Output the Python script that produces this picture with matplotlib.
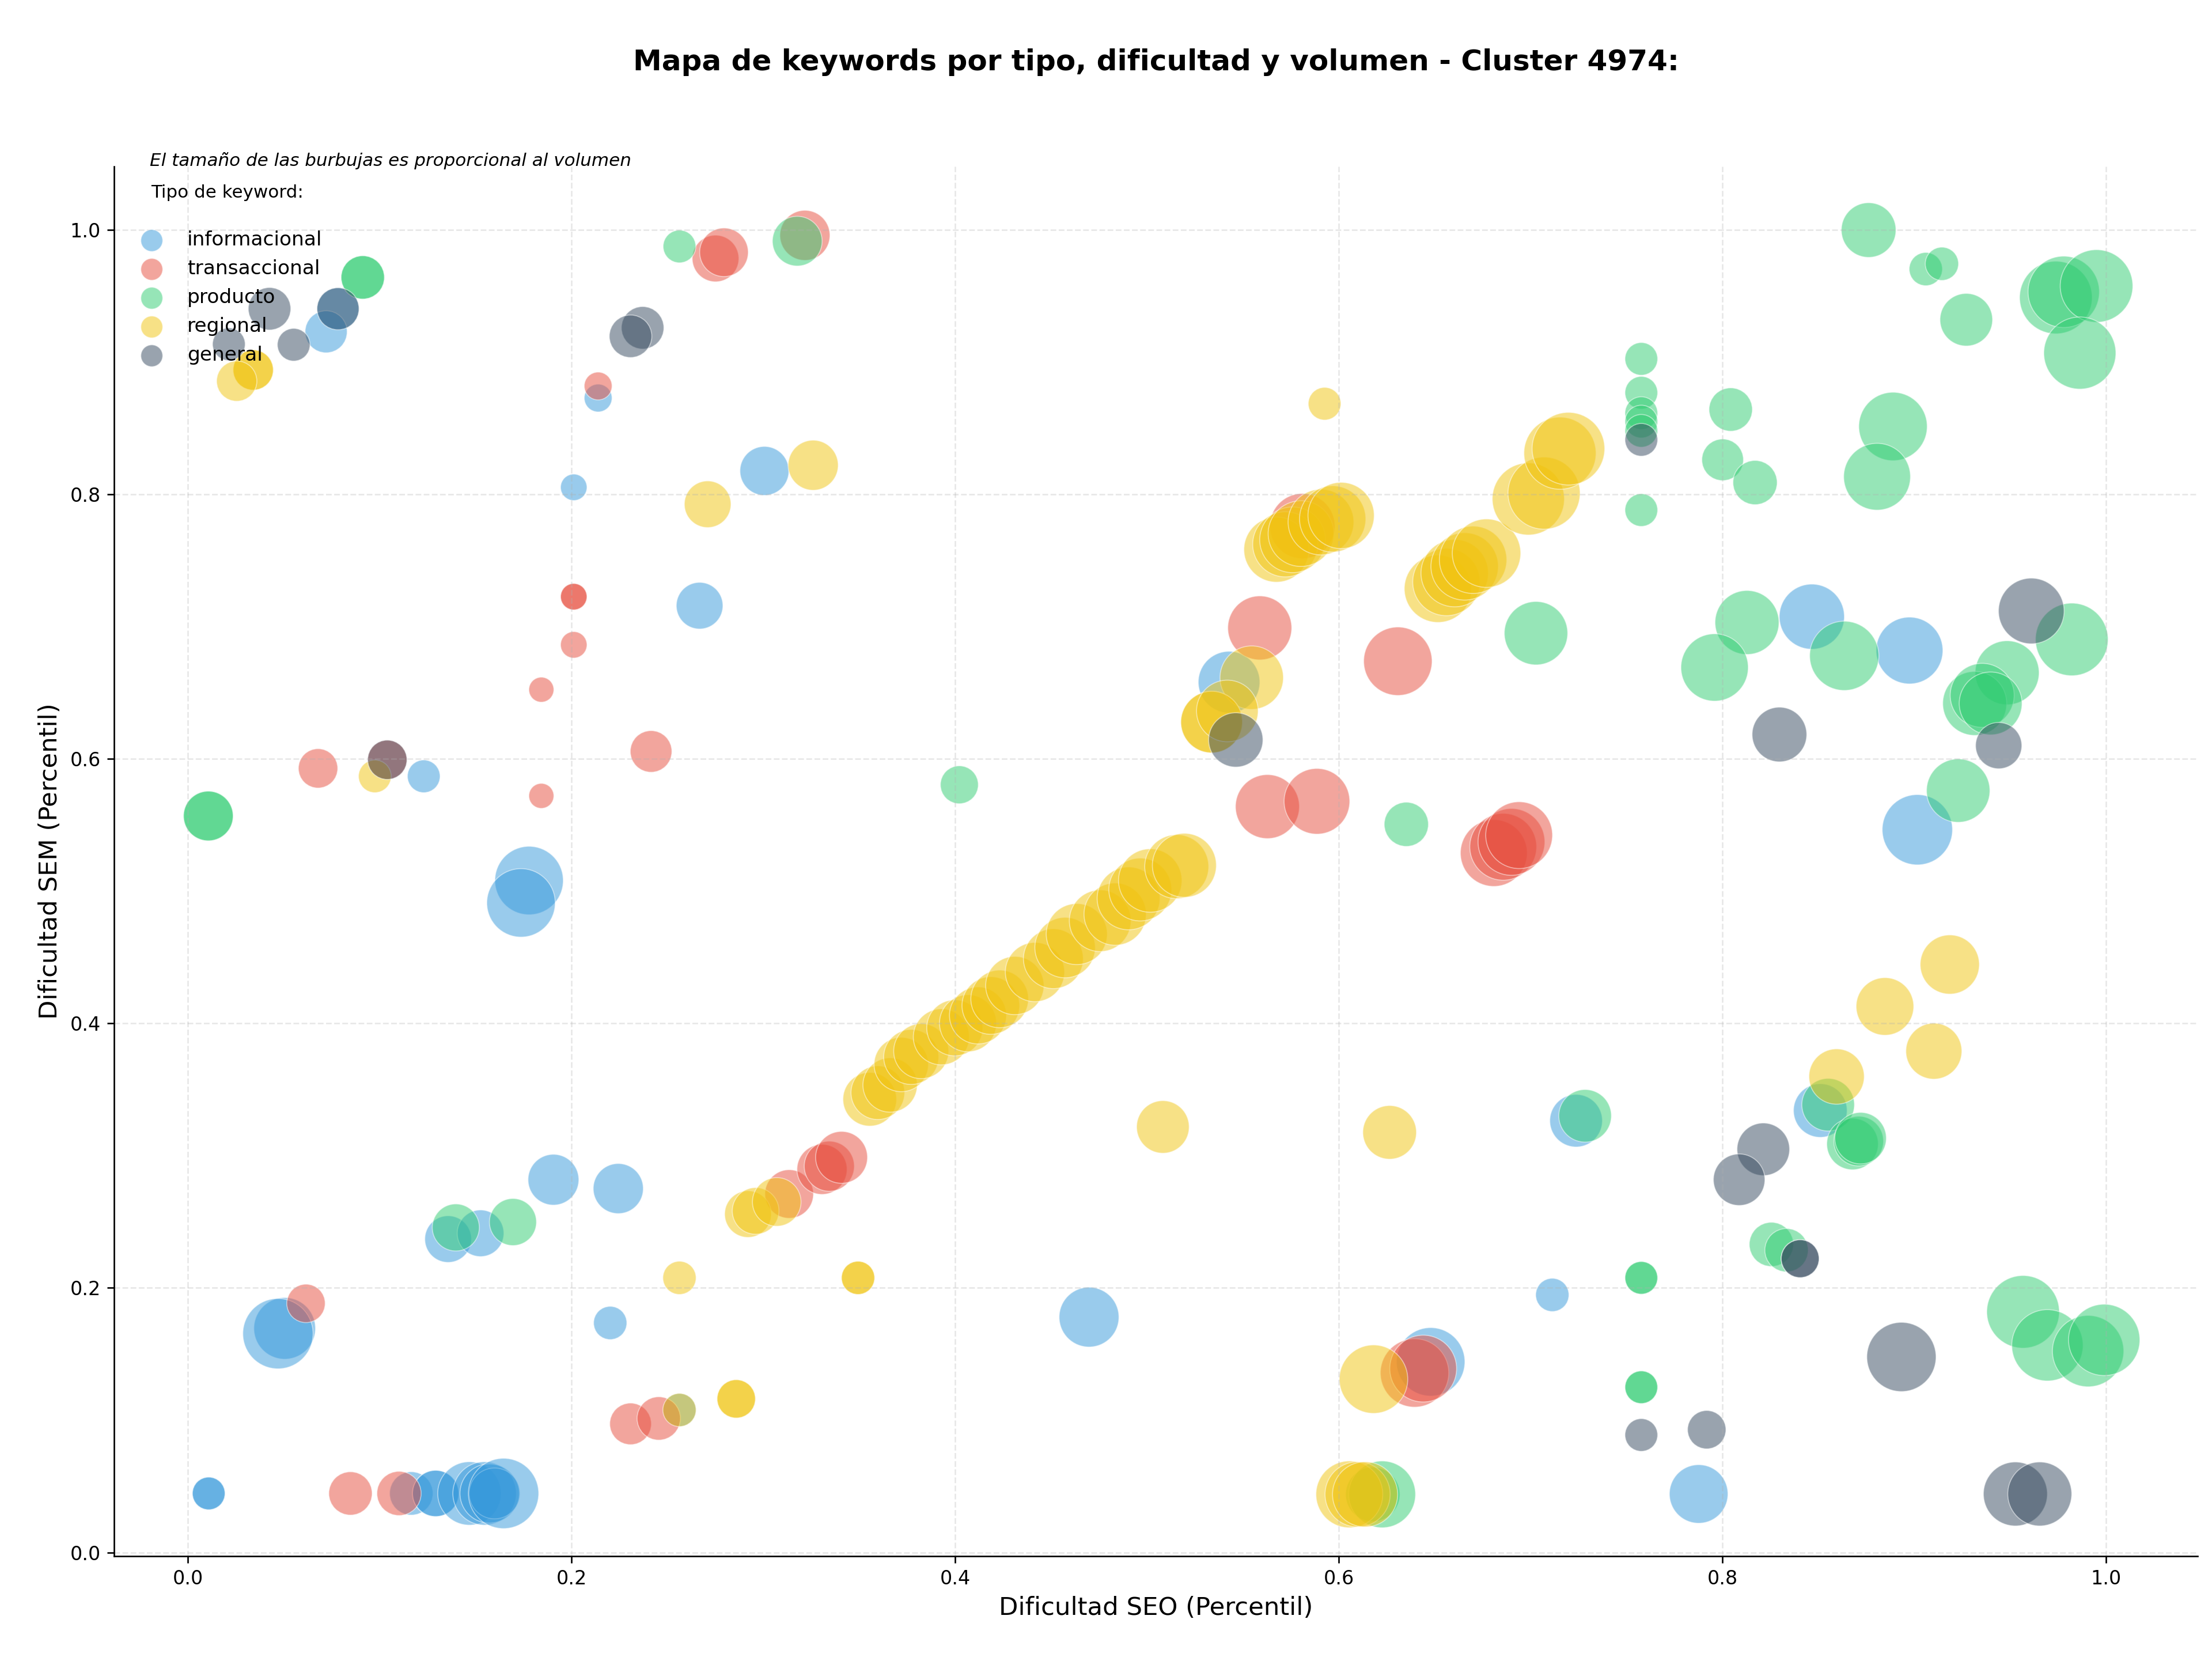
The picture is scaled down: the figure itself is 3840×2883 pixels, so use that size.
import numpy as np
import matplotlib
matplotlib.use("Agg")
import matplotlib.pyplot as plt

# Keyword types and their colours
tipos = ["informacional", "transaccional", "producto", "regional", "general"]
colores = {"informacional": "#3498db", "transaccional": "#e74c3c", "producto": "#2ecc71",
           "regional": "#f1c40f", "general": "#34495e"}

# Data per type: SEO difficulty percentile, SEM difficulty percentile, volume
info_seo = [0.0783, 0.0721, 0.2139, 0.2012, 0.123, 0.3006, 0.2668, 0.1779, 0.1737, 0.0505,
            0.047, 0.1357, 0.1526, 0.1906, 0.2244, 0.2202, 0.0109, 0.0109, 0.1165, 0.1292,
            0.1292, 0.1468, 0.1547, 0.1573, 0.1599, 0.1646, 0.5428, 0.2563, 0.4698, 0.7237,
            0.7113, 0.6479, 0.7876, 0.8466, 0.8975, 0.9016, 0.851]
info_sem = [0.9403, 0.9229, 0.8728, 0.8053, 0.5868, 0.8177, 0.7158, 0.508, 0.4911, 0.1694,
            0.1654, 0.2369, 0.2413, 0.2818, 0.2751, 0.1735, 0.0446, 0.0446, 0.0446, 0.0446,
            0.0446, 0.0446, 0.0446, 0.0446, 0.0446, 0.0446, 0.658, 0.1077, 0.1779, 0.3264,
            0.1947, 0.1441, 0.0442, 0.7075, 0.6819, 0.5464, 0.3341]
info_vol = [48, 48, 21, 19, 29, 65, 59, 127, 127, 103,
            134, 59, 59, 70, 68, 30, 29, 29, 51, 58,
            58, 109, 109, 95, 70, 134, 103, 30, 97, 75,
            30, 127, 93, 115, 121, 134, 78]

trans_seo = [0.2139, 0.2012, 0.2012, 0.2012, 0.1843, 0.1843, 0.0679, 0.104, 0.2751, 0.2795,
             0.3217, 0.2415, 0.0616, 0.2308, 0.2455, 0.0848, 0.1101, 0.3135, 0.3306, 0.3344,
             0.3408, 0.5588, 0.6308, 0.5628, 0.5886, 0.581, 0.6808, 0.6857, 0.69, 0.694,
             0.6395, 0.644]
trans_sem = [0.8819, 0.7226, 0.7226, 0.6862, 0.6523, 0.572, 0.5928, 0.5993, 0.9783, 0.983,
             0.9958, 0.6056, 0.1883, 0.0972, 0.1013, 0.0446, 0.0446, 0.271, 0.2896, 0.292,
             0.2987, 0.699, 0.6738, 0.5639, 0.5679, 0.776, 0.5288, 0.5335, 0.5372, 0.5423,
             0.1357, 0.139]
trans_vol = [21, 19, 19, 19, 17, 17, 42, 42, 59, 64,
             68, 47, 40, 47, 51, 51, 53, 64, 68, 68,
             73, 111, 127, 111, 117, 115, 121, 121, 121, 121,
             127, 121]

prod_seo = [0.0912, 0.0912, 0.0107, 0.0107, 0.2563, 0.3177, 0.4022, 0.1397, 0.1695, 0.7577,
            0.7577, 0.7577, 0.7577, 0.7577, 0.7577, 0.7028, 0.6352, 0.8762, 0.906, 0.9144,
            0.9271, 0.9738, 0.9779, 0.995, 0.9863, 0.8043, 0.8001, 0.817, 0.8889, 0.8806,
            0.8128, 0.7959, 0.8635, 0.9821, 0.9484, 0.9315, 0.9354, 0.9398, 0.9229, 0.7284,
            0.7577, 0.7577, 0.7577, 0.7577, 0.6177, 0.6226, 0.8551, 0.8678, 0.871, 0.872,
            0.8255, 0.8334, 0.9567, 0.9694, 0.9906, 0.999]
prod_sem = [0.964, 0.964, 0.5568, 0.5568, 0.9874, 0.9914, 0.5804, 0.2457, 0.2498, 0.9024,
            0.8768, 0.8614, 0.855, 0.848, 0.7881, 0.695, 0.5505, 0.9998, 0.9703, 0.9743,
            0.932, 0.9488, 0.9531, 0.9575, 0.9068, 0.8641, 0.8261, 0.8089, 0.8513, 0.8133,
            0.7031, 0.6691, 0.6779, 0.6903, 0.6651, 0.6419, 0.648, 0.6419, 0.576, 0.3301,
            0.2076, 0.2076, 0.1249, 0.1249, 0.0439, 0.0439, 0.3385, 0.3088, 0.311, 0.3132,
            0.2329, 0.2285, 0.1819, 0.1566, 0.1522, 0.1607]
prod_vol = [51, 51, 67, 67, 29, 67, 39, 60, 60, 29,
            29, 29, 29, 29, 29, 109, 53, 81, 30, 30,
            75, 143, 138, 143, 141, 51, 47, 53, 127, 121,
            111, 123, 130, 143, 111, 111, 111, 107, 109, 75,
            29, 29, 29, 29, 80, 121, 75, 72, 67, 72,
            53, 51, 143, 138, 138, 138]

reg_seo = [0.0341, 0.0341, 0.0255, 0.0975, 0.271, 0.326, 0.5926,
           0.5675, 0.5721, 0.5759, 0.5803, 0.5907, 0.5968, 0.6012,
           0.6517, 0.6561, 0.6604, 0.6656, 0.67, 0.677,
           0.6988, 0.707, 0.7153, 0.7197, 0.5546, 0.5337, 0.5337, 0.5419,
           0.292, 0.296, 0.307,
           0.3555, 0.3597, 0.3661, 0.3719, 0.3771, 0.3823, 0.3928, 0.3998, 0.4067, 0.4119,
           0.4186, 0.4232, 0.4311, 0.4416, 0.4512, 0.4573, 0.4634, 0.4756, 0.4834, 0.4904,
           0.4965, 0.5017, 0.5155, 0.5195,
           0.2563, 0.3494, 0.3494, 0.2563, 0.2859, 0.2859, 0.5083, 0.6265, 0.6181,
           0.6055, 0.6098, 0.6137, 0.9185, 0.8847, 0.9102, 0.8595]
reg_sem = [0.894, 0.894, 0.8856, 0.5868, 0.7925, 0.822, 0.8685,
           0.7582, 0.7622, 0.7656, 0.7703, 0.779, 0.7814, 0.784,
           0.7286, 0.7337, 0.7404, 0.7455, 0.7505, 0.7555,
           0.7965, 0.8009, 0.8311, 0.8345, 0.6614, 0.6278, 0.6278, 0.6362,
           0.2558, 0.2582, 0.265,
           0.3426, 0.3476, 0.3534, 0.3689, 0.3746, 0.379, 0.3898, 0.3966, 0.4001, 0.406,
           0.4135, 0.4185, 0.4286, 0.4388, 0.4489, 0.4573, 0.4675, 0.4776, 0.4826, 0.4945,
           0.5012, 0.508, 0.5185, 0.5195,
           0.2076, 0.2076, 0.2076, 0.1077, 0.1161, 0.1161, 0.3217, 0.3176, 0.131,
           0.0439, 0.0439, 0.0439, 0.4445, 0.4128, 0.379, 0.3598]
reg_vol = [44, 44, 44, 29, 59, 68, 29,
           115, 115, 117, 117, 117, 119, 119,
           123, 123, 123, 123, 123, 127,
           141, 141, 141, 143, 109, 103, 103, 103,
           59, 59, 64,
           78, 78, 80, 80, 82, 82, 85, 85, 88, 88,
           90, 90, 92, 95, 97, 99, 101, 103, 105, 107,
           107, 109, 111, 111,
           30, 30, 30, 30, 40, 40, 75, 78, 127,
           121, 115, 115, 95, 90, 85, 83]

gen_seo = [0.0426, 0.0783, 0.0214, 0.0552, 0.104, 0.2371, 0.2308, 0.5463, 0.7577, 0.961,
           0.944, 0.8297, 0.8213, 0.8087, 0.8405, 0.8405, 0.8933, 0.7577, 0.7918, 0.9527,
           0.9654]
gen_sem = [0.9403, 0.9403, 0.9135, 0.9131, 0.5993, 0.9259, 0.9195, 0.6143, 0.8412, 0.7118,
           0.61, 0.6184, 0.3048, 0.2818, 0.2221, 0.2221, 0.1478, 0.0888, 0.0928, 0.0442,
           0.0442]
gen_vol = [49, 48, 29, 29, 42, 49, 49, 80, 29, 117,
           58, 81, 75, 72, 39, 39, 130, 29, 40, 111,
           111]

series = {
    "informacional": (info_seo, info_sem, info_vol),
    "transaccional": (trans_seo, trans_sem, trans_vol),
    "producto": (prod_seo, prod_sem, prod_vol),
    "regional": (reg_seo, reg_sem, reg_vol),
    "general": (gen_seo, gen_sem, gen_vol),
}

fig = plt.figure(figsize=(16, 12.0125), dpi=240)
ax = fig.add_axes([0.0516, 0.0633, 0.9419, 0.8365])

for tipo in tipos:
    seo, sem, vol = series[tipo]
    ax.scatter(seo, sem, s=np.array(vol) * 10, c=colores[tipo], alpha=0.5,
               edgecolors="white", linewidths=0.5, label=tipo)

ax.set_xlim(-0.0384, 1.0477)
ax.set_ylim(-0.0026, 1.0479)

ax.set_title("Mapa de keywords por tipo, dificultad y volumen - Cluster 4974:",
             fontsize=15, fontweight="bold", pad=50)
ax.set_xlabel("Dificultad SEO (Percentil)", fontsize=13)
ax.set_ylabel("Dificultad SEM (Percentil)", fontsize=13)
ax.grid(True, linestyle="--", alpha=0.3)
ax.spines["top"].set_visible(False)
ax.spines["right"].set_visible(False)

# legend with a blank line under its title, equal-size markers
leg = ax.legend(title="Tipo de keyword:\n", loc="upper left", frameon=False,
                fontsize=10.3, title_fontsize=9.3)
for h in leg.legend_handles:
    h.set_sizes([130])

ax.text(0.017, 1.004, "El tamaño de las burbujas es proporcional al volumen",
        transform=ax.transAxes, fontsize=9.3, style="italic", va="center", ha="left")

fig.savefig("out.png", dpi=240)
